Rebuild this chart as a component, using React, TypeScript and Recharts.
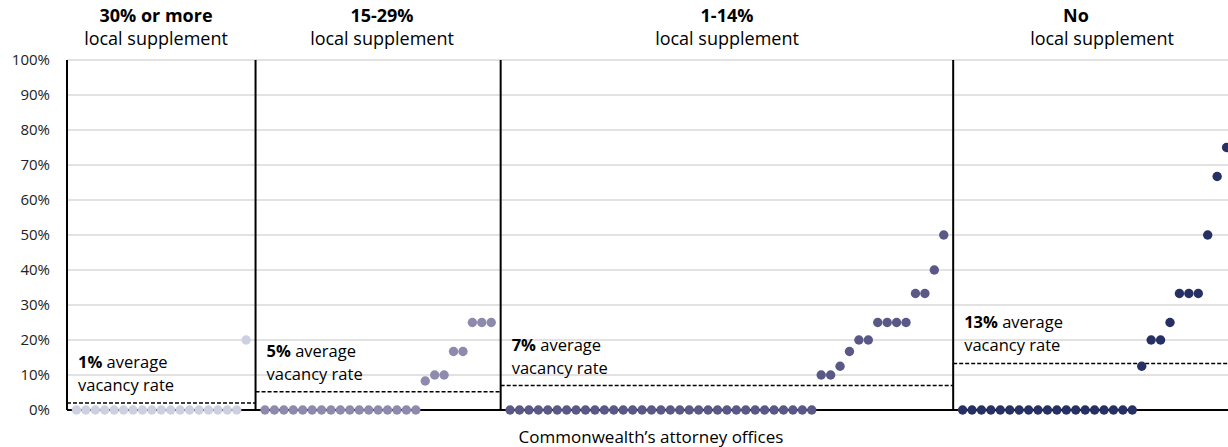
import { ScatterChart, Scatter, XAxis, YAxis, CartesianGrid, ReferenceLine, Label } from "recharts"

// vacancy rate per office, sorted, one list per supplement group
const GROUP_30_PLUS = [0, 0, 0, 0, 0, 0, 0, 0, 0, 0, 0, 0, 0, 0, 0, 0, 0, 0, 20]
const GROUP_15_29 = [0, 0, 0, 0, 0, 0, 0, 0, 0, 0, 0, 0, 0, 0, 0, 0, 0, 8.3, 10, 10, 16.7, 16.7, 25, 25, 25]
const GROUP_1_14 = [
  0, 0, 0, 0, 0, 0, 0, 0, 0, 0, 0, 0, 0, 0, 0, 0, 0, 0, 0, 0, 0, 0, 0, 0, 0, 0, 0, 0, 0, 0, 0, 0, 0,
  10, 10, 12.5, 16.7, 20, 20, 25, 25, 25, 25, 33.3, 33.3, 40, 50,
]
const GROUP_NONE = [
  0, 0, 0, 0, 0, 0, 0, 0, 0, 0, 0, 0, 0, 0, 0, 0, 0, 0, 0,
  12.5, 20, 20, 25, 33.3, 33.3, 33.3, 50, 66.7, 75,
]

const GROUP_TITLES = ["30% or more", "15-29%", "1-14%", "No"]
const GROUP_SUBTITLE = "local supplement"
const AVG_TEXT = ["1%", "5%", "7%", "13%"]
const AVG_LINE = [2, 5.2, 7, 13.3]
const Y_TICKS = [0, 10, 20, 30, 40, 50, 60, 70, 80, 90, 100]
const X_TITLE = "Commonwealth\u2019s attorney offices"

const COLORS = ["#CDD0E1", "#8E8AAD", "#595887", "#263063"]
const FONT = "'Open Sans', sans-serif"

// header placement (px) - titles aren't quite centred on the panels in the original
const TITLE_X = [156, 382, 727, 1076]
const SUB_X = [156, 382, 727, 1102]

const GROUPS = [GROUP_30_PLUS, GROUP_15_29, GROUP_1_14, GROUP_NONE]

// each office gets one slot, with an empty slot where the divider sits
const panels: { points: { x: number; y: number }[]; from: number; to: number }[] = []
let slot = 1
GROUPS.forEach((vals) => {
  const points = vals.map((v, j) => ({ x: slot + j, y: v }))
  const end = slot + vals.length
  panels.push({ points, from: slot - 1, to: end })
  slot = end + 1
})
const X_MAX = panels[panels.length - 1].to

const Dot = (color: string) => (props: any) => {
  const { cx, cy } = props
  if (cx == null || cy == null) return <g />
  return <circle cx={cx} cy={cy} r={4.7} fill={color} />
}

export default function App() {
  return (
    <div style={{ position: "absolute", left: 0, top: 0, width: 1228, height: 447, overflow: "hidden", background: "#fff" }}>
      <ScatterChart width={1240} height={447} margin={{ top: 60, right: 4, bottom: 37, left: 0 }}>
        <CartesianGrid vertical={false} stroke="#d9d9d9" strokeWidth={1.5} />
        <XAxis type="number" dataKey="x" domain={[0, X_MAX]} hide />
        <YAxis
          type="number"
          dataKey="y"
          domain={[0, 100]}
          ticks={Y_TICKS}
          width={67}
          axisLine={false}
          tickLine={false}
          tickMargin={11}
          tickFormatter={(v: number) => `${v}%`}
          tick={{ fill: "#222", fontSize: 15, fontFamily: FONT }}
        />

        {panels.map((p, i) => (
          <ReferenceLine key={`sep-${i}`} x={p.from} stroke="#000" strokeWidth={2} />
        ))}
        <ReferenceLine y={0} stroke="#000" strokeWidth={2} />

        {panels.map((p, i) => (
          <ReferenceLine
            key={`avg-${i}`}
            segment={[
              { x: p.from, y: AVG_LINE[i] },
              { x: p.to, y: AVG_LINE[i] },
            ]}
            stroke="#000"
            strokeWidth={1.5}
            strokeDasharray="4 2"
          >
            <Label
              content={({ viewBox }: any) => {
                const { x, y } = viewBox
                return (
                  <g fontFamily={FONT} fontSize={16.5} fill="#000">
                    <text x={x + 11} y={y - 35}>
                      <tspan fontWeight={700}>{AVG_TEXT[i]}</tspan>
                      <tspan> average</tspan>
                    </text>
                    <text x={x + 11} y={y - 12}>
                      vacancy rate
                    </text>
                  </g>
                )
              }}
            />
          </ReferenceLine>
        ))}

        {panels.map((p, i) => (
          <Scatter
            key={`grp-${i}`}
            data={p.points}
            fill={COLORS[i]}
            shape={Dot(COLORS[i])}
            isAnimationActive={false}
          />
        ))}
      </ScatterChart>

      <svg
        width={1228}
        height={447}
        style={{ position: "absolute", left: 0, top: 0, pointerEvents: "none" }}
        fontFamily={FONT}
      >
        {GROUP_TITLES.map((t, i) => (
          <text key={`t-${i}`} x={TITLE_X[i]} y={22} textAnchor="middle" fontSize={18} fontWeight={700} fill="#000">
            {t}
          </text>
        ))}
        {GROUP_TITLES.map((_, i) => (
          <text key={`s-${i}`} x={SUB_X[i]} y={45} textAnchor="middle" fontSize={18} fill="#000">
            {GROUP_SUBTITLE}
          </text>
        ))}
        <text x={651} y={443} textAnchor="middle" fontSize={17} fill="#000">
          {X_TITLE}
        </text>
      </svg>
    </div>
  )
}
